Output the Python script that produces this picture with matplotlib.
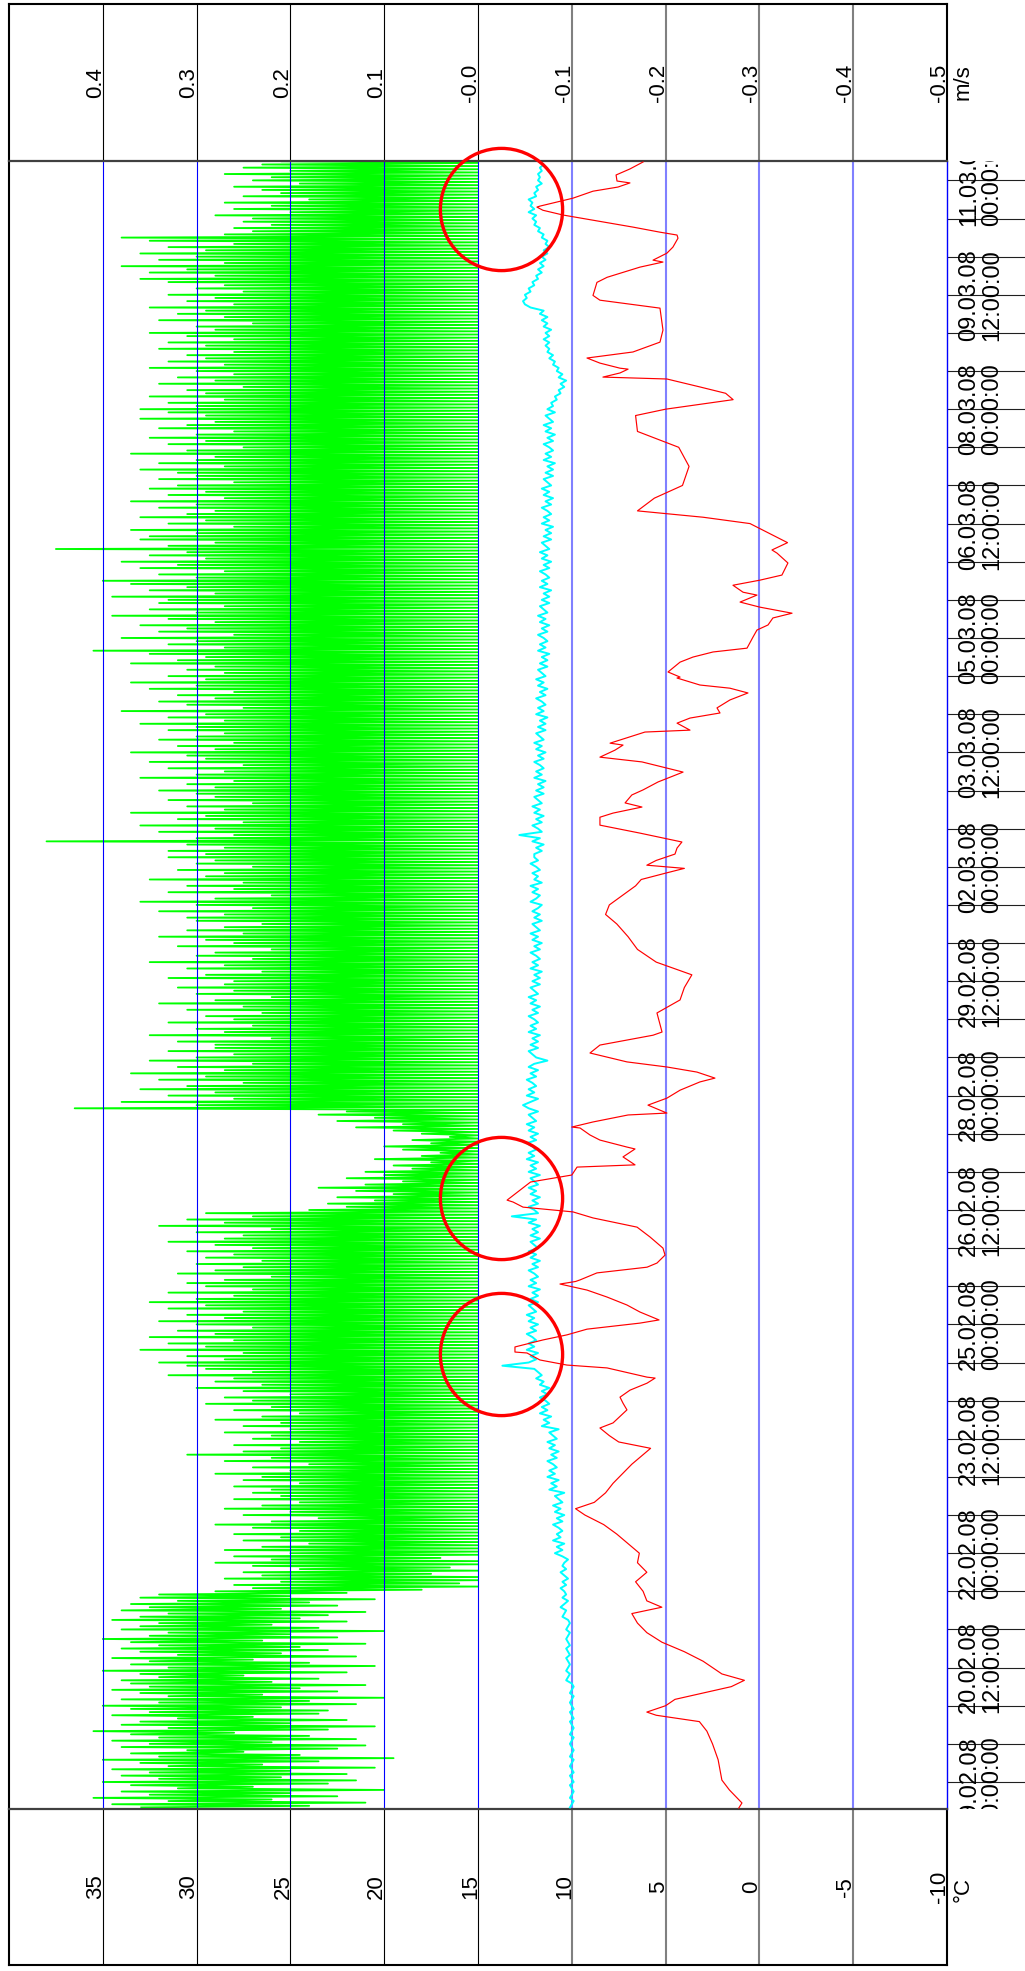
import matplotlib
matplotlib.use('Agg')
import matplotlib.pyplot as plt
from matplotlib.transforms import offset_copy

plt.rcParams['font.family'] = ['Liberation Sans', 'DejaVu Sans']

# ---------------- data ----------------
# time: hours since 19.02.08 00:00
t_min, t_max = -8.5, 510.1
tick_hours = list(range(0, 505, 12))
label_hours = list(range(0, 505, 36))
label_texts = ["19.02.08\n00:00:00", "20.02.08\n12:00:00", "22.02.08\n00:00:00",
               "23.02.08\n12:00:00", "25.02.08\n00:00:00", "26.02.08\n12:00:00",
               "28.02.08\n00:00:00", "29.02.08\n12:00:00", "02.03.08\n00:00:00",
               "03.03.08\n12:00:00", "05.03.08\n00:00:00", "06.03.08\n12:00:00",
               "08.03.08\n00:00:00", "09.03.08\n12:00:00", "11.03.08\n00:00:00"]

temp_ticks = [35, 30, 25, 20, 15, 10, 5, 0, -5, -10]
temp_labels = ["35", "30", "25", "20", "15", "10", "5", "0", "-5", "-10"]
speed_ticks = [0.4, 0.3, 0.2, 0.1, 0.0, -0.1, -0.2, -0.3, -0.4, -0.5]
speed_labels = ["0.4", "0.3", "0.2", "0.1", "-0.0", "-0.1", "-0.2", "-0.3", "-0.4", "-0.5"]

# red temperature series (hour, degC)
red = [(-8.2, 1.1), (-6.6, 0.93), (-2.5, 1.6), (0.6, 2.0), (7, 2.2), (12, 2.5), (16, 2.8),
       (19, 3.2), (21, 5.5), (22, 6.0), (24, 5.0), (26, 4.5), (28, 3.0), (30, 1.5), (32, 0.8),
       (34, 2.0), (36, 2.5), (38, 3.0), (41, 4.0), (44, 5.2), (47, 6.0), (50, 6.5), (53, 6.8),
       (55, 5.2), (57, 6.0), (60, 6.2), (63, 6.6), (66, 6.0), (69, 6.5), (72, 6.4), (75, 7.0),
       (78, 7.6), (81, 8.3), (84, 9.3), (86, 9.8), (88, 8.8), (91, 8.2), (94, 7.8), (97, 7.3),
       (100, 6.8), (103, 6.2), (105, 5.8), (107, 7.5), (109, 8.0), (111.4, 8.5), (113.0, 7.8),
       (117.1, 7.06), (119.2, 7.27), (121.1, 7.43), (123.3, 6.9), (125.5, 5.99), (127.1, 5.56),
       (127.4, 5.99), (130.3, 8.12), (131.2, 10.26), (132.8, 11.7), (135.0, 12.39), (135.3, 13.03),
       (136.9, 13.03), (139.1, 11.54), (140.7, 10.26), (142.5, 9.19), (144.4, 6.37), (145.4, 5.35),
       (147.9, 6.37), (150.1, 7.06), (152.6, 8.12), (154.8, 9.19), (156.7, 10.63), (157.5, 9.8),
       (158.0, 9.56), (160.2, 8.66), (162.0, 5.99), (163.3, 5.46), (165.8, 5.03), (168.0, 5.14),
       (171.5, 5.83), (174.6, 6.52), (177.5, 8.87), (179.4, 9.94), (180.9, 12.6), (182.5, 13.13),
       (183.1, 13.45), (188.8, 12.2), (191.0, 10.0), (193.5, 9.72), (194.2, 6.63), (196.7, 7.27),
       (199.2, 6.63), (199.8, 7.06), (202.0, 8.5), (203.6, 9.03), (205.8, 9.56), (206.1, 10.0),
       (207.7, 8.87), (209.9, 7.0), (210.5, 4.93), (213.0, 5.94), (215.2, 4.93), (217.7, 4.23),
       (220.3, 3.17), (221.5, 2.37), (223.4, 3.33), (225.0, 4.93), (226.6, 7.06), (228.1, 8.12),
       (229.4, 9.03), (231.9, 8.5), (235.0, 5.67), (236.0, 5.19), (242.0, 5.46), (246.1, 4.23),
       (250, 4.0), (254, 3.6), (258, 5.5), (262, 6.5), (266, 7.0), (270, 7.6), (273, 8.2),
       (276, 8.0), (279, 7.3), (282, 6.6), (284, 6.3), (286, 5.0), (287.5, 4.0), (288.5, 6.0),
       (290, 5.5), (292, 4.5), (293.9, 4.39), (295.8, 4.13), (298.6, 6.37), (301.1, 8.5),
       (303.6, 8.5), (304.9, 7.8), (306.8, 6.26), (308.1, 7.16), (310.6, 6.8), (312.2, 6.2),
       (314.7, 5.4), (317.8, 4.07), (321.0, 6.26), (322.5, 8.5), (324.7, 7.7), (326.3, 7.27),
       (326.9, 7.96), (330.4, 6.1), (331.0, 3.7), (333.2, 4.39), (334.8, 3.7), (336.4, 2.1),
       (338.0, 2.26), (340.5, 1.57), (342.7, 0.61), (344.2, 1.57), (345.2, 3.17), (347.4, 4.39),
       (347.7, 4.23), (349.3, 4.87), (352.4, 4.23), (354.0, 3.54), (355.6, 2.47), (356.8, 0.66),
       (360.3, 0.34), (362.5, 0.13), (364.1, -0.46), (366.3, -0.72), (367.8, -1.74), (369.7, -0.03),
       (371.3, 1.03), (373.5, 0.13), (374.4, 0.87), (376.6, 1.41), (378.2, -0.03), (379.8, -1.2),
       (383.6, -1.52), (386.7, -0.94), (387.7, -0.67), (390, -1.5), (393, -0.5), (396, 0.5),
       (398, 3.0), (400, 6.5), (404, 5.6), (408, 4.1), (414, 3.75), (420, 4.3), (425, 6.5),
       (430, 6.6), (432, 5.0), (435, 1.4), (437, 1.8), (439.0, 3.17), (441.5, 4.93), (442.1, 8.34),
       (443.4, 7.43), (444.6, 7.0), (444.9, 7.43), (446.5, 8.5), (448.1, 9.19), (450.0, 6.74),
       (453.1, 5.3), (456.9, 5.14), (463.8, 5.3), (466.3, 8.5), (467.8, 8.87), (471.9, 8.66),
       (473.5, 8.12), (476.7, 6.37), (478.3, 5.14), (478.9, 5.67), (481.1, 4.93), (483.0, 4.61),
       (485.8, 4.34), (486.8, 4.39), (487.7, 5.3), (489.3, 6.74), (493.1, 10.47), (494.6, 11.54),
       (495.6, 11.86), (495.9, 11.7), (498.4, 9.94), (500.6, 8.87), (501.9, 7.54), (503.2, 6.9),
       (503.8, 7.59), (505.7, 7.64), (507.6, 6.9), (509.8, 6.2)]

# cyan series, hourly from -8 h, in tenths of degC
cyan_start, cyan_step = -8, 1
cyan_tenths = [
    101, 100, 99, 101, 100, 99, 100, 101, 99, 100, 101, 99, 100, 101, 100, 99, 101, 100, 99, 100,
    101, 100, 99, 101, 100, 99, 100, 101, 99, 100, 101, 99, 100, 101, 100, 99, 101, 100, 99, 100,
    103, 102, 101, 103, 102, 101, 102, 103, 101, 102, 103, 101, 102, 103, 102, 101, 103, 102, 101, 102,
    105, 104, 103, 106, 104, 102, 105, 103, 104, 106, 103, 105, 102, 104, 106, 103, 105, 104, 102, 105,
    109, 105, 108, 104, 110, 106, 108, 105, 107, 110, 105, 108, 104, 109, 106, 110, 105, 107, 109, 104,
    112, 108, 111, 107, 113, 109, 112, 108, 110, 113, 108, 111, 107, 112, 109, 113, 108, 110, 112, 107,
    116, 112, 115, 111, 117, 113, 116, 112, 114, 117, 113, 116, 112, 117, 115, 119, 116, 118, 120, 137,
    123, 119, 122, 118, 124, 120, 123, 119, 121, 124, 119, 122, 118, 123, 120, 124, 119, 121, 123, 118,
    122, 118, 121, 117, 123, 119, 122, 118, 120, 123, 118, 121, 117, 122, 119, 123, 118, 120, 122, 117,
    122, 118, 121, 117, 123, 119, 132, 118, 120, 123, 118, 121, 117, 122, 119, 123, 118, 120, 122, 117,
    123, 119, 122, 118, 124, 120, 123, 119, 121, 124, 119, 122, 118, 123, 120, 124, 119, 121, 123, 118,
    123, 126, 122, 118, 124, 120, 123, 119, 121, 124, 119, 122, 118, 123, 120, 113, 119, 121, 123, 118,
    122, 118, 121, 117, 123, 119, 122, 118, 120, 123, 118, 121, 117, 122, 119, 123, 118, 120, 122, 117,
    121, 117, 120, 116, 122, 118, 121, 117, 119, 122, 117, 120, 116, 121, 118, 122, 117, 119, 121, 116,
    120, 117, 121, 118, 116, 122, 119, 117, 121, 118, 122, 116, 120, 118, 121, 117, 119, 122, 118, 120,
    120, 116, 119, 115, 121, 117, 128, 116, 118, 121, 116, 119, 115, 120, 117, 121, 116, 118, 120, 115,
    119, 115, 118, 114, 120, 116, 119, 115, 117, 120, 115, 118, 114, 119, 116, 120, 115, 117, 119, 114,
    118, 114, 117, 113, 119, 115, 118, 114, 116, 119, 114, 117, 113, 118, 115, 119, 114, 116, 118, 113,
    117, 113, 116, 112, 118, 114, 117, 113, 115, 118, 113, 116, 112, 117, 114, 118, 113, 115, 117, 112,
    116, 112, 115, 111, 117, 113, 116, 112, 114, 117, 112, 115, 111, 116, 113, 117, 112, 114, 116, 111,
    115, 111, 114, 110, 116, 112, 115, 111, 113, 116, 111, 114, 110, 115, 112, 116, 111, 113, 115, 110,
    114, 110, 113, 109, 115, 111, 114, 110, 112, 115, 110, 113, 109, 114, 111, 115, 110, 112, 114, 109,
    113, 110, 111, 108, 109, 106, 107, 104, 106, 103, 107, 105, 108, 107, 110, 109, 112, 110, 113, 112,
    114, 112, 115, 112, 114, 111, 115, 113, 116, 113, 117, 115, 122, 125, 126, 124, 125, 122, 123, 120,
    121, 118, 119, 116, 118, 115, 117, 114, 116, 113, 115, 112, 114, 113, 116, 115, 118, 117, 120, 119,
    121, 119, 123, 120, 122, 121, 123, 119, 120, 118, 119, 116, 118, 117, 118, 116, 117, 115, 118, 116]

# green speed series (cm/s): hourly maxima from -8 h, each followed half an hour later by a minimum
green_start, green_step = -8, 1
green_hi = [
    36, 39, 33, 41, 35, 38, 32, 37, 40, 34, 38, 35, 39, 33, 36, 40, 34, 37, 31, 38,
    35, 39, 34, 37, 41, 33, 38, 36, 32, 39, 35, 37, 40, 34, 38, 33, 36, 39, 35, 37,
    38, 34, 36, 40, 33, 37, 35, 39, 32, 36, 38, 34, 37, 40, 35, 33, 38, 36, 34, 39,
    36, 33, 38, 35, 37, 32, 36, 34, 28, 24, 26, 21, 27, 23, 25, 19, 24, 28, 22, 26,
    20, 27, 23, 18, 25, 21, 26, 19, 24, 28, 22, 17, 25, 20, 27, 23, 19, 26, 21, 24,
    22, 26, 19, 25, 23, 28, 20, 24, 18, 27, 22, 31, 25, 21, 26, 19, 24, 22, 27, 20,
    25, 21, 28, 23, 19, 26, 22, 29, 24, 27, 20, 25, 30, 23, 28, 26, 33, 24, 29, 31,
    34, 27, 31, 25, 36, 29, 33, 26, 35, 28, 32, 24, 30, 34, 27, 31, 25, 33, 29, 35,
    30, 26, 33, 24, 29, 31, 27, 22, 32, 28, 25, 30, 23, 29, 26, 31, 24, 28, 33, 27,
    25, 30, 22, 34, 27, 31, 24, 29, 18, 14, 16, 11, 15, 9, 13, 17, 12, 8, 14, 10,
    12, 7, 9, 5, 11, 6, 4, 8, 10, 5, 7, 3, 6, 9, 13, 8, 15, 11, 17, 14,
    43, 30, 38, 26, 33, 28, 36, 31, 25, 34, 29, 37, 27, 32, 24, 35, 30, 26, 33, 28,
    28, 32, 22, 35, 27, 30, 24, 33, 26, 29, 23, 31, 25, 34, 28, 22, 30, 26, 32, 27,
    26, 33, 29, 23, 31, 27, 35, 24, 30, 28, 22, 32, 26, 29, 34, 25, 31, 27, 23, 30,
    31, 27, 34, 24, 30, 36, 28, 22, 33, 26, 31, 25, 35, 29, 27, 32, 24, 30, 28, 33,
    29, 33, 27, 31, 46, 30, 26, 34, 28, 36, 25, 32, 29, 37, 27, 31, 24, 33, 28, 30,
    34, 28, 31, 26, 36, 30, 27, 33, 25, 35, 29, 31, 37, 28, 32, 26, 34, 30, 27, 33,
    30, 36, 27, 33, 29, 38, 25, 31, 34, 28, 32, 26, 35, 30, 37, 29, 33, 27, 31, 28,
    37, 32, 29, 35, 41, 27, 33, 30, 38, 26, 34, 31, 36, 28, 33, 39, 30, 35, 27, 34,
    33, 39, 28, 35, 31, 37, 40, 30, 34, 27, 36, 32, 38, 29, 35, 31, 45, 33, 28, 36,
    35, 30, 37, 26, 33, 29, 36, 31, 28, 34, 30, 37, 27, 33, 29, 35, 32, 26, 34, 30,
    32, 36, 27, 34, 30, 28, 37, 31, 25, 33, 29, 35, 30, 26, 34, 31, 28, 36, 29, 33,
    36, 30, 33, 27, 35, 29, 31, 25, 34, 28, 32, 26, 30, 35, 27, 33, 29, 31, 26, 34,
    29, 33, 26, 31, 35, 28, 30, 24, 34, 27, 32, 29, 35, 26, 31, 28, 33, 25, 30, 27,
    33, 36, 28, 35, 31, 38, 27, 34, 30, 36, 29, 33, 26, 35, 38, 27, 24, 26, 22, 25,
    24, 28, 20, 26, 22, 27, 18, 25, 21, 23, 26, 19, 24, 22, 27, 20, 25, 23, 21, 24]
# minima while the flow stays above zero (-8 h .. 71 h); later minima are 0
green_lo_early = [
    18, 12, 22, 15, 20, 10, 24, 16, 13, 21, 14, 20, 11, 23, 17, 9, 19, 25, 15, 12,
    22, 13, 18, 26, 16, 11, 20, 14, 24, 17, 16, 21, 13, 18, 10, 23, 15, 19, 12, 22,
    17, 25, 14, 20, 11, 18, 24, 13, 21, 16, 19, 12, 23, 15, 20, 10, 17, 22, 14, 19,
    16, 12, 21, 15, 18, 11, 20, 14, 6, 0, 2, 0, 0, 5, 0, 3, 0, 0, 4, 0]

# annotation circles (hour, degC)
circle_hours = [495.0, 183.8, 134.7]
circle_temp = [13.8, 13.8, 13.8]

# ---------------- layout ----------------
W, H = 1025, 1971
fig = plt.figure(figsize=(W / 100, H / 100), dpi=100)


def fx(px):
    return px / W


def fy(py):
    return 1 - py / H


L, R = 9, 947
TOP, MT, MB, BOT = 4, 161, 1809, 1965
FS = 16
FS_T = 17

ax = fig.add_axes([fx(L), fy(MB), (R - L) / W, (MB - MT) / H])
ax_s = ax.twiny()
ax.set_zorder(2)
ax_s.set_zorder(1)
ax.patch.set_visible(False)

ax.set_xlim(40, -10)
ax_s.set_xlim(0.5, -0.5)
ax.set_ylim(t_min, t_max)
for a in (ax, ax_s):
    a.set_xticks([])
    a.set_yticks([])
for sp in ax_s.spines.values():
    sp.set_visible(False)
ax.spines['left'].set(color='black', lw=1.5)
ax.spines['top'].set(color='#404040', lw=1.6)
ax.spines['bottom'].set(color='#404040', lw=1.6)
ax.spines['right'].set(color='#0000ff', lw=1.0)

# green series
g_t, g_v = [], []
for i, hi in enumerate(green_hi):
    lo = green_lo_early[i] if i < len(green_lo_early) else 0
    g_t += [green_start + green_step * i, green_start + green_step * (i + 0.5)]
    g_v += [hi / 100.0, lo / 100.0]
ax_s.plot(g_v, g_t, color='#00ff00', lw=1.3, solid_capstyle='butt', zorder=1)

# grid in main plot
for T in temp_ticks[:-1]:
    if T >= 15:
        ax.axvline(T, color='#0000ff', lw=0.8, zorder=1)
    else:
        ax.axvline(T, color='#8080ff', lw=1.5, zorder=1)

# cyan series
c_t = [cyan_start + cyan_step * i for i in range(len(cyan_tenths))]
c_T = [v / 10.0 for v in cyan_tenths]
ax.plot(c_T, c_t, color='#00ffff', lw=1.4, zorder=3)

# red series
ax.plot([p[1] for p in red], [p[0] for p in red], color='#ff0000', lw=0.85, zorder=4)

# circles
ax.plot(circle_temp, circle_hours, 'o', ms=88, mfc='none', mec='#ff0000', mew=2.4,
        zorder=5, clip_on=False)

# time label column
ax_lab = fig.add_axes([fx(R), fy(MB), (W - R) / W, (MB - MT) / H])
ax_lab.set_xlim(0, W - R)
ax_lab.set_ylim(t_min, t_max)
ax_lab.axis('off')
ax_lab.hlines(tick_hours, 0, W - R, colors='#202020', lw=0.8)
for h, s in zip(label_hours, label_texts):
    ax_lab.text(11, h, s, rotation=90, ha='left', va='center', fontsize=FS_T,
                linespacing=1.05, clip_on=True)

# top panel (m/s)
ax_top = fig.add_axes([fx(L), fy(MT), (R - L) / W, (MT - TOP) / H])
ax_top.set_xlim(0.5, -0.5)
ax_top.set_ylim(0, 1)
ax_top.set_xticks([])
ax_top.set_yticks([])
ax_top.spines['bottom'].set_visible(False)
for k in ('left', 'top', 'right'):
    ax_top.spines[k].set(color='black', lw=1.5)
tr_top = offset_copy(ax_top.transData, fig=fig, x=3, y=0, units='dots')
for v, s in zip(speed_ticks, speed_labels):
    if v > -0.45:
        if v >= 0:
            ax_top.axvline(v, color='black', lw=0.8)
        else:
            ax_top.axvline(v, color='#808080', lw=1.5)
    ax_top.text(v, 0.5, s, rotation=90, ha='right', va='center', fontsize=FS,
                transform=tr_top)
fig.text(fx(953), fy(82), 'm/s', rotation=90, ha='left', va='center', fontsize=FS)

# bottom panel (degC)
ax_bot = fig.add_axes([fx(L), fy(BOT), (R - L) / W, (BOT - MB) / H])
ax_bot.set_xlim(40, -10)
ax_bot.set_ylim(0, 1)
ax_bot.set_xticks([])
ax_bot.set_yticks([])
ax_bot.spines['top'].set_visible(False)
for k in ('left', 'bottom', 'right'):
    ax_bot.spines[k].set(color='black', lw=1.5)
tr_bot = offset_copy(ax_bot.transData, fig=fig, x=3, y=0, units='dots')
for T, s in zip(temp_ticks, temp_labels):
    if T > -9:
        if T >= 15:
            ax_bot.axvline(T, color='black', lw=0.8)
        else:
            ax_bot.axvline(T, color='#808080', lw=1.5)
    ax_bot.text(T, 0.5, s, rotation=90, ha='right', va='center', fontsize=FS,
                transform=tr_bot)
fig.text(fx(953), fy(1889), '°C', rotation=90, ha='left', va='center', fontsize=FS)

fig.savefig('out.png', dpi=100)
